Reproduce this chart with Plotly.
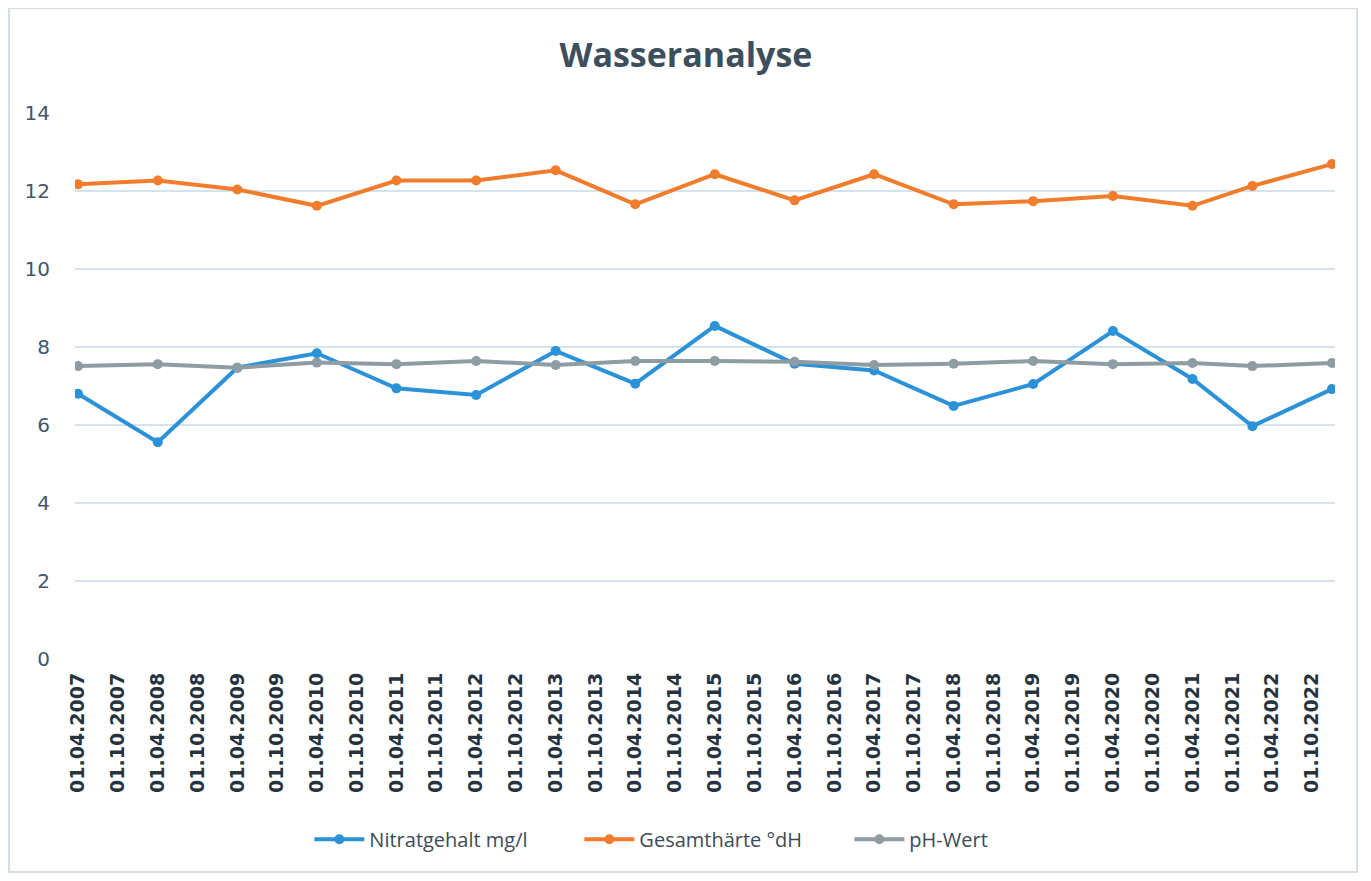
import plotly.graph_objects as go

# Messdaten
datum = ["2007-04-01", "2008-04-01", "2009-04-01", "2010-04-01", "2011-04-01",
         "2012-04-01", "2013-04-01", "2014-04-01", "2015-04-01", "2016-04-01",
         "2017-04-01", "2018-04-01", "2019-04-01", "2020-04-01", "2021-04-01",
         "2022-01-01", "2023-01-01"]
nitrat = [6.8, 5.56, 7.47, 7.84, 6.94, 6.77, 7.9, 7.06, 8.54, 7.57,
          7.4, 6.49, 7.05, 8.41, 7.18, 5.97, 6.92]
haerte = [12.17, 12.27, 12.04, 11.62, 12.27, 12.27, 12.53, 11.66, 12.43, 11.76,
          12.43, 11.66, 11.74, 11.87, 11.62, 12.13, 12.69]
ph_wert = [7.51, 7.56, 7.47, 7.6, 7.56, 7.64, 7.54, 7.64, 7.64, 7.62,
           7.54, 7.57, 7.64, 7.56, 7.59, 7.51, 7.59]

# Achsenbeschriftung alle 6 Monate
tick_datum = []
tick_text = []
for jahr in range(2007, 2023):
    for monat in ["04", "10"]:
        tick_datum.append(f"{jahr}-{monat}-01")
        tick_text.append(f"01.{monat}.{jahr}")

fig = go.Figure()
fig.add_trace(go.Scatter(x=datum, y=nitrat, mode="lines+markers", name="Nitratgehalt mg/l",
                         line=dict(color="#2b92d8", width=4), marker=dict(size=10)))
fig.add_trace(go.Scatter(x=datum, y=haerte, mode="lines+markers", name="Gesamthärte °dH",
                         line=dict(color="#f07c2c", width=4), marker=dict(size=10)))
fig.add_trace(go.Scatter(x=datum, y=ph_wert, mode="lines+markers", name="pH-Wert",
                         line=dict(color="#8e9ca3", width=4), marker=dict(size=10)))

fig.update_layout(
    width=1371, height=881,
    paper_bgcolor="white", plot_bgcolor="white",
    margin=dict(l=67, r=44, t=105, b=230),
    title=dict(text="<b>Wasseranalyse</b>", x=0.4945, xanchor="center", y=0.947, yanchor="middle",
               font=dict(family="Open Sans", size=34, color="#3d4f5c")),
    xaxis=dict(type="date", range=["2007-03-18", "2023-01-15"],
               tickmode="array", tickvals=tick_datum, ticktext=tick_text, tickangle=-90,
               tickfont=dict(family="DejaVu Sans", size=19, color="#26333e", weight="bold"),
               showgrid=False, showline=False, zeroline=False, ticks="", ticklabelstandoff=9),
    yaxis=dict(range=[0, 14], dtick=2, showgrid=True, gridcolor="#d3e4ef", gridwidth=1.5,
               zeroline=False, showline=False, ticks="", ticklabelstandoff=24,
               tickfont=dict(family="DejaVu Sans", size=20, color="#44556a")),
    legend=dict(orientation="h", x=0.186, xanchor="left", y=-0.33, yanchor="middle",
                font=dict(family="Open Sans", size=20, color="#404a55"),
                itemwidth=50, entrywidth=205),
    shapes=[dict(type="rect", xref="paper", yref="paper", x0=-0.0524, x1=1.0175, y0=-0.39, y1=1.192,
                 line=dict(color="#d6dde3", width=2))],
)

fig.write_html("out.html")
